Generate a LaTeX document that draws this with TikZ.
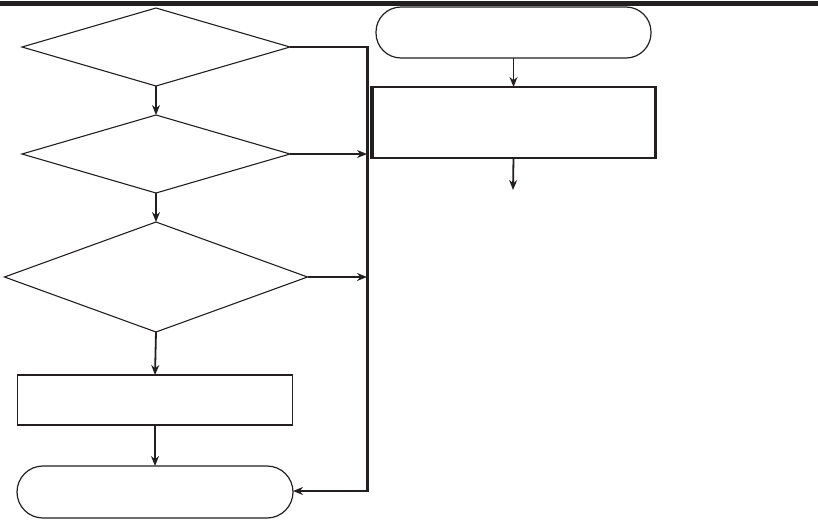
\documentclass[tikz,border=0pt]{standalone}
\usetikzlibrary{shapes.geometric,arrows.meta}
\definecolor{ink}{HTML}{231F20}
\begin{document}
\begin{tikzpicture}[x=1pt,y=-1pt,
  dec/.style={draw=ink,shape=diamond,line width=1.1pt,inner sep=0pt,outer sep=0pt},
  box/.style={draw=ink,rectangle,line width=1.2pt,inner sep=0pt,outer sep=0pt},
  term/.style={draw=ink,rectangle,line width=1.2pt,inner sep=0pt,outer sep=0pt,rounded corners=25pt},
  conn/.style={draw=ink,line width=1.8pt,-{Stealth[length=10pt,width=8pt]}},
  plain/.style={draw=ink,line width=1.4pt}]
\useasboundingbox (0,0) rectangle (818,520);
% top rule
\fill[ink] (0,1) rectangle (818,6);
% left column
\node[dec,minimum width=268pt,minimum height=78pt] (d1) at (156,47) {};
\node[dec,minimum width=268pt,minimum height=78pt] (d2) at (156,154) {};
\node[dec,minimum width=303pt,minimum height=110pt] (d3) at (156,277) {};
\node[box,minimum width=275pt,minimum height=50pt] (r1) at (155,400) {};
\node[term,minimum width=276pt,minimum height=52pt,rounded corners=26pt] (t1) at (155,492) {};
% right column
\node[term,minimum width=275pt,minimum height=51pt] (t2) at (513.5,32.5) {};
\node[box,minimum width=285pt,minimum height=71pt] (r2) at (513.5,122.5) {};
\draw[ink,line width=4pt] ([xshift=1pt]r2.north west) -- ([xshift=1pt]r2.south west);
\draw[ink,line width=2.5pt] ([xshift=-0.7pt]r2.north east) -- ([xshift=-0.7pt]r2.south east);
\coordinate (out) at (513,190);
% bus
\coordinate (vtop) at (367,47);
\coordinate (vbot) at (367,491);
% connectors
\draw[conn] (d1.south) -- (d2.north);
\draw[conn] (d2.south) -- (d3.north);
\draw[conn] (d3.south) -- (r1.north);
\draw[conn] (r1.south) -- (t1.north);
\draw[plain] (d1.east) -- ([xshift=1.5pt]vtop);
\draw[ink,line width=3pt] (vtop) -- (vbot);
\draw[conn] ([xshift=1.5pt]vbot) -- (t1.east |- vbot);
\draw[conn] (d2.east) -- (d2.east -| vtop);
\draw[conn] (d3.east) -- (d3.east -| vtop);
\draw[conn] (t2.south) -- (t2.south |- r2.north);
\draw[conn] (r2.south) -- (out);
\end{tikzpicture}
\end{document}
